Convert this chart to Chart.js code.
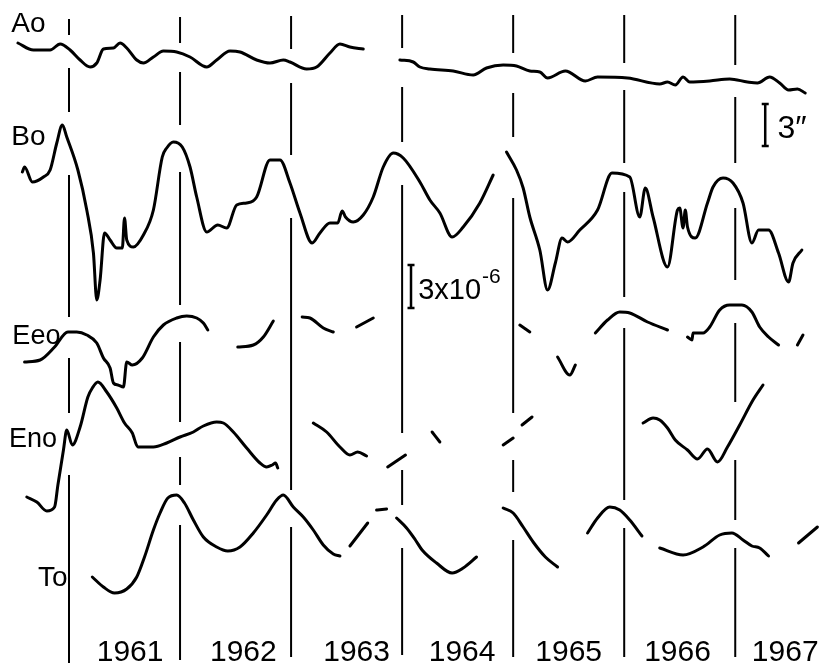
<!DOCTYPE html>
<html><head><meta charset="utf-8">
<script src="https://cdn.jsdelivr.net/npm/chart.js@4/dist/chart.umd.min.js"></script>
<style>html,body{margin:0;padding:0;background:#fff}#wrap{width:840px;height:663px;position:relative}</style>
</head><body><div id="wrap"><canvas id="c"></canvas></div>
<script>
// Year boundaries (vertical lines) and bottom labels
const yearLines = [1961, 1962, 1963, 1964, 1965, 1966, 1967];
const yearLabels = ['1961', '1962', '1963', '1964', '1965', '1966', '1967'];
// Visible pieces of each year line (vertical position, plate units from top)
const yearLineSegments = [
  [[19,35],[68,112],[175,317],[358,413],[475,663]],
  [[17,43],[72,125],[172,305],[342,422],[457,485],[525,660]],
  [[16,49],[83,155],[218,490],[527,657]],
  [[15,48],[87,142],[185,433],[470,505],[548,655]],
  [[15,53],[93,137],[198,413],[460,492],[540,657]],
  [[15,63],[90,163],[192,297],[328,500],[528,657]],
  [[15,65],[97,163],[208,280],[323,402],[460,520],[548,657]]
];
const traceNames = ['Ao', 'Bo', 'Eeo', 'Eno', 'To'];

// Ao
const aoYears = [
  [1960.54,1960.68,1960.83,1960.92,1961.01,1961.10,1961.19,1961.25,1961.31,1961.40,1961.46,1961.52,1961.61,1961.67,1961.76,1961.85,1961.97,1962.09,1962.24,1962.33,1962.45,1962.54,1962.69,1962.81,1962.93,1962.99,1963.14,1963.23,1963.35,1963.44,1963.53,1963.65],
  [1963.98,1964.10,1964.16,1964.25,1964.46,1964.64,1964.76,1964.91,1965.03,1965.15,1965.24,1965.31,1965.47,1965.65,1965.76,1966.03,1966.32,1966.39,1966.46,1966.53,1966.59,1966.77,1966.95,1967.11,1967.20,1967.31,1967.40,1967.48,1967.56,1967.63]
];
const aoValues = [
  [43,50,50,44,50,60,67,63,49,48,43,48,60,63,57,51,52,57,67,60,51,52,60,63,60,62,69,67,53,44,47,49],
  [60,62,67,69,71,75,68,65,66,71,72,78,71,81,77,78,84,82,85,77,82,81,79,82,83,77,83,90,89,93]
];
// Bo
const boYears = [
  [1960.58,1960.60,1960.67,1960.77,1960.83,1960.89,1960.94,1960.98,1961.08,1961.16,1961.22,1961.25,1961.28,1961.32,1961.37,1961.43,1961.48,1961.50,1961.52,1961.58,1961.67,1961.76,1961.84,1961.88,1961.94,1962.02,1962.09,1962.15,1962.24,1962.34,1962.42,1962.51,1962.60,1962.69,1962.81,1962.90,1962.99,1963.08,1963.19,1963.26,1963.35,1963.42,1963.46,1963.49,1963.56,1963.65,1963.74,1963.83,1963.92,1964.01,1964.16,1964.25,1964.34,1964.45,1964.55,1964.70,1964.82],
  [1964.94,1965.03,1965.09,1965.15,1965.24,1965.31,1965.38,1965.44,1965.49,1965.60,1965.76,1965.89,1966.05,1966.14,1966.19,1966.26,1966.39,1966.48,1966.50,1966.53,1966.55,1966.57,1966.64,1966.75,1966.80,1966.89,1966.98,1967.07,1967.15,1967.21,1967.30,1967.39,1967.48,1967.52,1967.60]
];
const boValues = [
  [172,167,182,177,170,143,125,137,170,210,253,300,280,233,240,248,248,218,240,247,235,210,157,148,142,147,167,197,232,225,228,205,203,197,160,160,183,213,243,233,223,223,211,217,222,215,197,167,153,158,182,200,213,237,227,203,175],
  [152,170,188,217,250,290,263,238,242,230,210,173,177,217,188,217,267,210,208,228,210,227,238,203,187,178,183,203,243,230,230,253,282,263,250]
];
// Eeo
const eeoYears = [
  [1960.60,1960.74,1960.87,1960.99,1961.07,1961.16,1961.25,1961.31,1961.37,1961.40,1961.44,1961.49,1961.52,1961.57,1961.66,1961.76,1961.85,1961.97,1962.06,1962.15,1962.21,1962.25],
  [1962.52,1962.66,1962.75,1962.84],
  [1963.10,1963.17,1963.29,1963.38],
  [1963.59,1963.74],
  [1965.06,1965.15],
  [1965.40,1965.51,1965.56],
  [1965.74,1965.85,1965.96,1966.05,1966.21,1966.39],
  [1966.57,1966.61,1966.62,1966.71,1966.77,1966.86,1966.95,1967.06,1967.15,1967.22,1967.30,1967.39],
  [1967.56,1967.61]
];
const eeoValues = [
  [362,360,347,332,332,335,343,358,368,383,385,387,362,365,358,337,325,318,316,318,323,330],
  [347,345,337,321],
  [317,318,328,332],
  [327,318],
  [325,332],
  [357,375,365],
  [333,320,312,313,322,330],
  [337,340,333,333,327,310,305,305,312,327,337,345],
  [345,335]
];
// Eno
const enoYears = [
  [1960.62,1960.71,1960.80,1960.87,1960.90,1960.95,1960.98,1961.03,1961.10,1961.17,1961.21,1961.26,1961.34,1961.43,1961.50,1961.57,1961.62,1961.76,1961.88,1962.00,1962.12,1962.21,1962.33,1962.39,1962.48,1962.60,1962.72,1962.78,1962.83,1962.86,1962.88],
  [1963.20,1963.32,1963.44,1963.53,1963.60,1963.68],
  [1963.87,1964.03],
  [1964.27,1964.34],
  [1964.91,1965.00],
  [1965.08,1965.17],
  [1966.17,1966.26,1966.32,1966.39,1966.46,1966.57,1966.66,1966.75,1966.84,1966.93,1967.04,1967.16,1967.25]
];
const enoValues = [
  [497,502,511,507,485,450,430,445,427,397,388,382,392,408,423,433,447,447,443,437,432,426,422,423,432,448,463,467,465,463,468],
  [423,432,447,455,452,456],
  [467,455],
  [432,442],
  [445,438],
  [425,417],
  [423,418,420,428,440,450,459,449,462,447,425,400,385]
];
// To
const toYears = [
  [1961.21,1961.31,1961.41,1961.52,1961.61,1961.68,1961.76,1961.82,1961.89,1961.97,1962.04,1962.12,1962.21,1962.33,1962.43,1962.54,1962.66,1962.78,1962.87,1962.93,1963.02,1963.11,1963.20,1963.29,1963.38,1963.44],
  [1963.53,1963.69],
  [1963.77,1963.86],
  [1963.95,1964.04,1964.12,1964.18,1964.31,1964.45,1964.55,1964.67],
  [1964.91,1965.00,1965.09,1965.18,1965.29,1965.40],
  [1965.67,1965.76,1965.87,1965.96,1966.05,1966.16],
  [1966.32,1966.53,1966.71,1966.86,1966.97,1967.07,1967.15,1967.22,1967.30],
  [1967.57,1967.74]
];
const toValues = [
  [577,587,593,589,577,557,530,513,498,495,503,520,537,547,551,547,533,515,500,495,507,517,530,545,554,556],
  [546,523],
  [510,509],
  [518,528,540,550,563,573,568,557],
  [508,513,527,542,557,567],
  [533,518,507,510,520,536],
  [548,555,547,535,533,540,546,548,556],
  [543,527]
];

function toPoints(xs, ys) {
  const pts = [];
  xs.forEach((seg, i) => {
    seg.forEach((x, j) => pts.push({ x: x, y: ys[i][j] }));
    pts.push({ x: seg[seg.length - 1], y: null });
  });
  return pts;
}
const vertXs = [], vertYs = [];
yearLines.forEach((yr, i) => {
  yearLineSegments[i].forEach(s => { vertXs.push([yr, yr]); vertYs.push(s); });
});

const traceStyle = {
  borderColor: '#000', borderWidth: 3, pointRadius: 0, fill: false,
  cubicInterpolationMode: 'monotone', borderCapStyle: 'round', borderJoinStyle: 'round', spanGaps: false
};
const datasets = [
  { label: 'year lines', data: toPoints(vertXs, vertYs), borderColor: '#000', borderWidth: 2, pointRadius: 0, tension: 0, spanGaps: false },
  Object.assign({ label: traceNames[0], data: toPoints(aoYears, aoValues) }, traceStyle),
  Object.assign({ label: traceNames[1], data: toPoints(boYears, boValues) }, traceStyle),
  Object.assign({ label: traceNames[2], data: toPoints(eeoYears, eeoValues) }, traceStyle),
  Object.assign({ label: traceNames[3], data: toPoints(enoYears, enoValues) }, traceStyle),
  Object.assign({ label: traceNames[4], data: toPoints(toYears, toValues) }, traceStyle)
];

const annotate = {
  id: 'annotate',
  afterDatasetsDraw(chart, args, opts) {
    const ctx = chart.ctx, xs = chart.scales.x, ys = chart.scales.y;
    const px = v => xs.getPixelForValue(v), py = v => ys.getPixelForValue(v);
    ctx.save();
    ctx.fillStyle = '#000';
    ctx.strokeStyle = '#000';
    ctx.textBaseline = 'alphabetic';
    // trace names
    ctx.textAlign = 'left';
    opts.names.forEach((n, i) => {
      ctx.font = n.size + 'px "Liberation Sans", Arial, sans-serif';
      ctx.fillText(traceNames[i], px(n.x), py(n.y));
    });
    // year labels
    ctx.textAlign = 'center';
    ctx.font = opts.yearSize + 'px "Liberation Sans", Arial, sans-serif';
    yearLabels.forEach((t, i) => ctx.fillText(t, px(yearLines[i] + opts.yearOffsets[i]), py(opts.yearBaseline)));
    // scale bars
    opts.bars.forEach(b => {
      const x = px(b.x), y1 = py(b.y1), y2 = py(b.y2), cw = 3.5;
      ctx.lineWidth = 2.5;
      ctx.beginPath();
      ctx.moveTo(x, y1); ctx.lineTo(x, y2);
      ctx.moveTo(x - cw, y1); ctx.lineTo(x + cw, y1);
      ctx.moveTo(x - cw, y2); ctx.lineTo(x + cw, y2);
      ctx.stroke();
      ctx.textAlign = 'left';
      ctx.font = b.size + 'px "Liberation Sans", Arial, sans-serif';
      const tx = px(b.tx), ty = py(b.ty);
      ctx.fillText(b.text, tx, ty);
      if (b.sup) {
        const w = ctx.measureText(b.text).width;
        ctx.font = b.supSize + 'px "Liberation Sans", Arial, sans-serif';
        ctx.fillText(b.sup, tx + w + 1, ty - b.supRaise);
      }
    });
    ctx.restore();
  }
};

new Chart(document.getElementById('c'), {
  type: 'line',
  data: { datasets: datasets },
  options: {
    responsive: true, maintainAspectRatio: false, animation: false,
    layout: { padding: 0 },
    parsing: true,
    scales: {
      x: { type: 'linear', min: 1960.3786, max: 1967.9434, display: false },
      y: { type: 'linear', min: 0, max: 663, reverse: true, display: false }
    },
    plugins: {
      legend: { display: false }, tooltip: { enabled: false },
      annotate: {
        names: [
          { x: 1960.48, y: 32, size: 28 },
          { x: 1960.48, y: 145, size: 28 },
          { x: 1960.49, y: 344, size: 27 },
          { x: 1960.46, y: 447, size: 27 },
          { x: 1960.72, y: 586, size: 28 }
        ],
        yearSize: 30,
        yearBaseline: 661,
        yearOffsets: [0.55, 0.57, 0.59, 0.54, 0.50, 0.48, 0.45],
        bars: [
          { x: 1967.27, y1: 104, y2: 146, text: '3\u2033', tx: 1967.38, ty: 138, size: 32 },
          { x: 1964.08, y1: 265, y2: 308, text: '3x10', tx: 1964.145, ty: 299, size: 29, sup: '-6', supSize: 21, supRaise: 16 }
        ]
      }
    }
  },
  plugins: [annotate]
});
</script>
</body></html>
